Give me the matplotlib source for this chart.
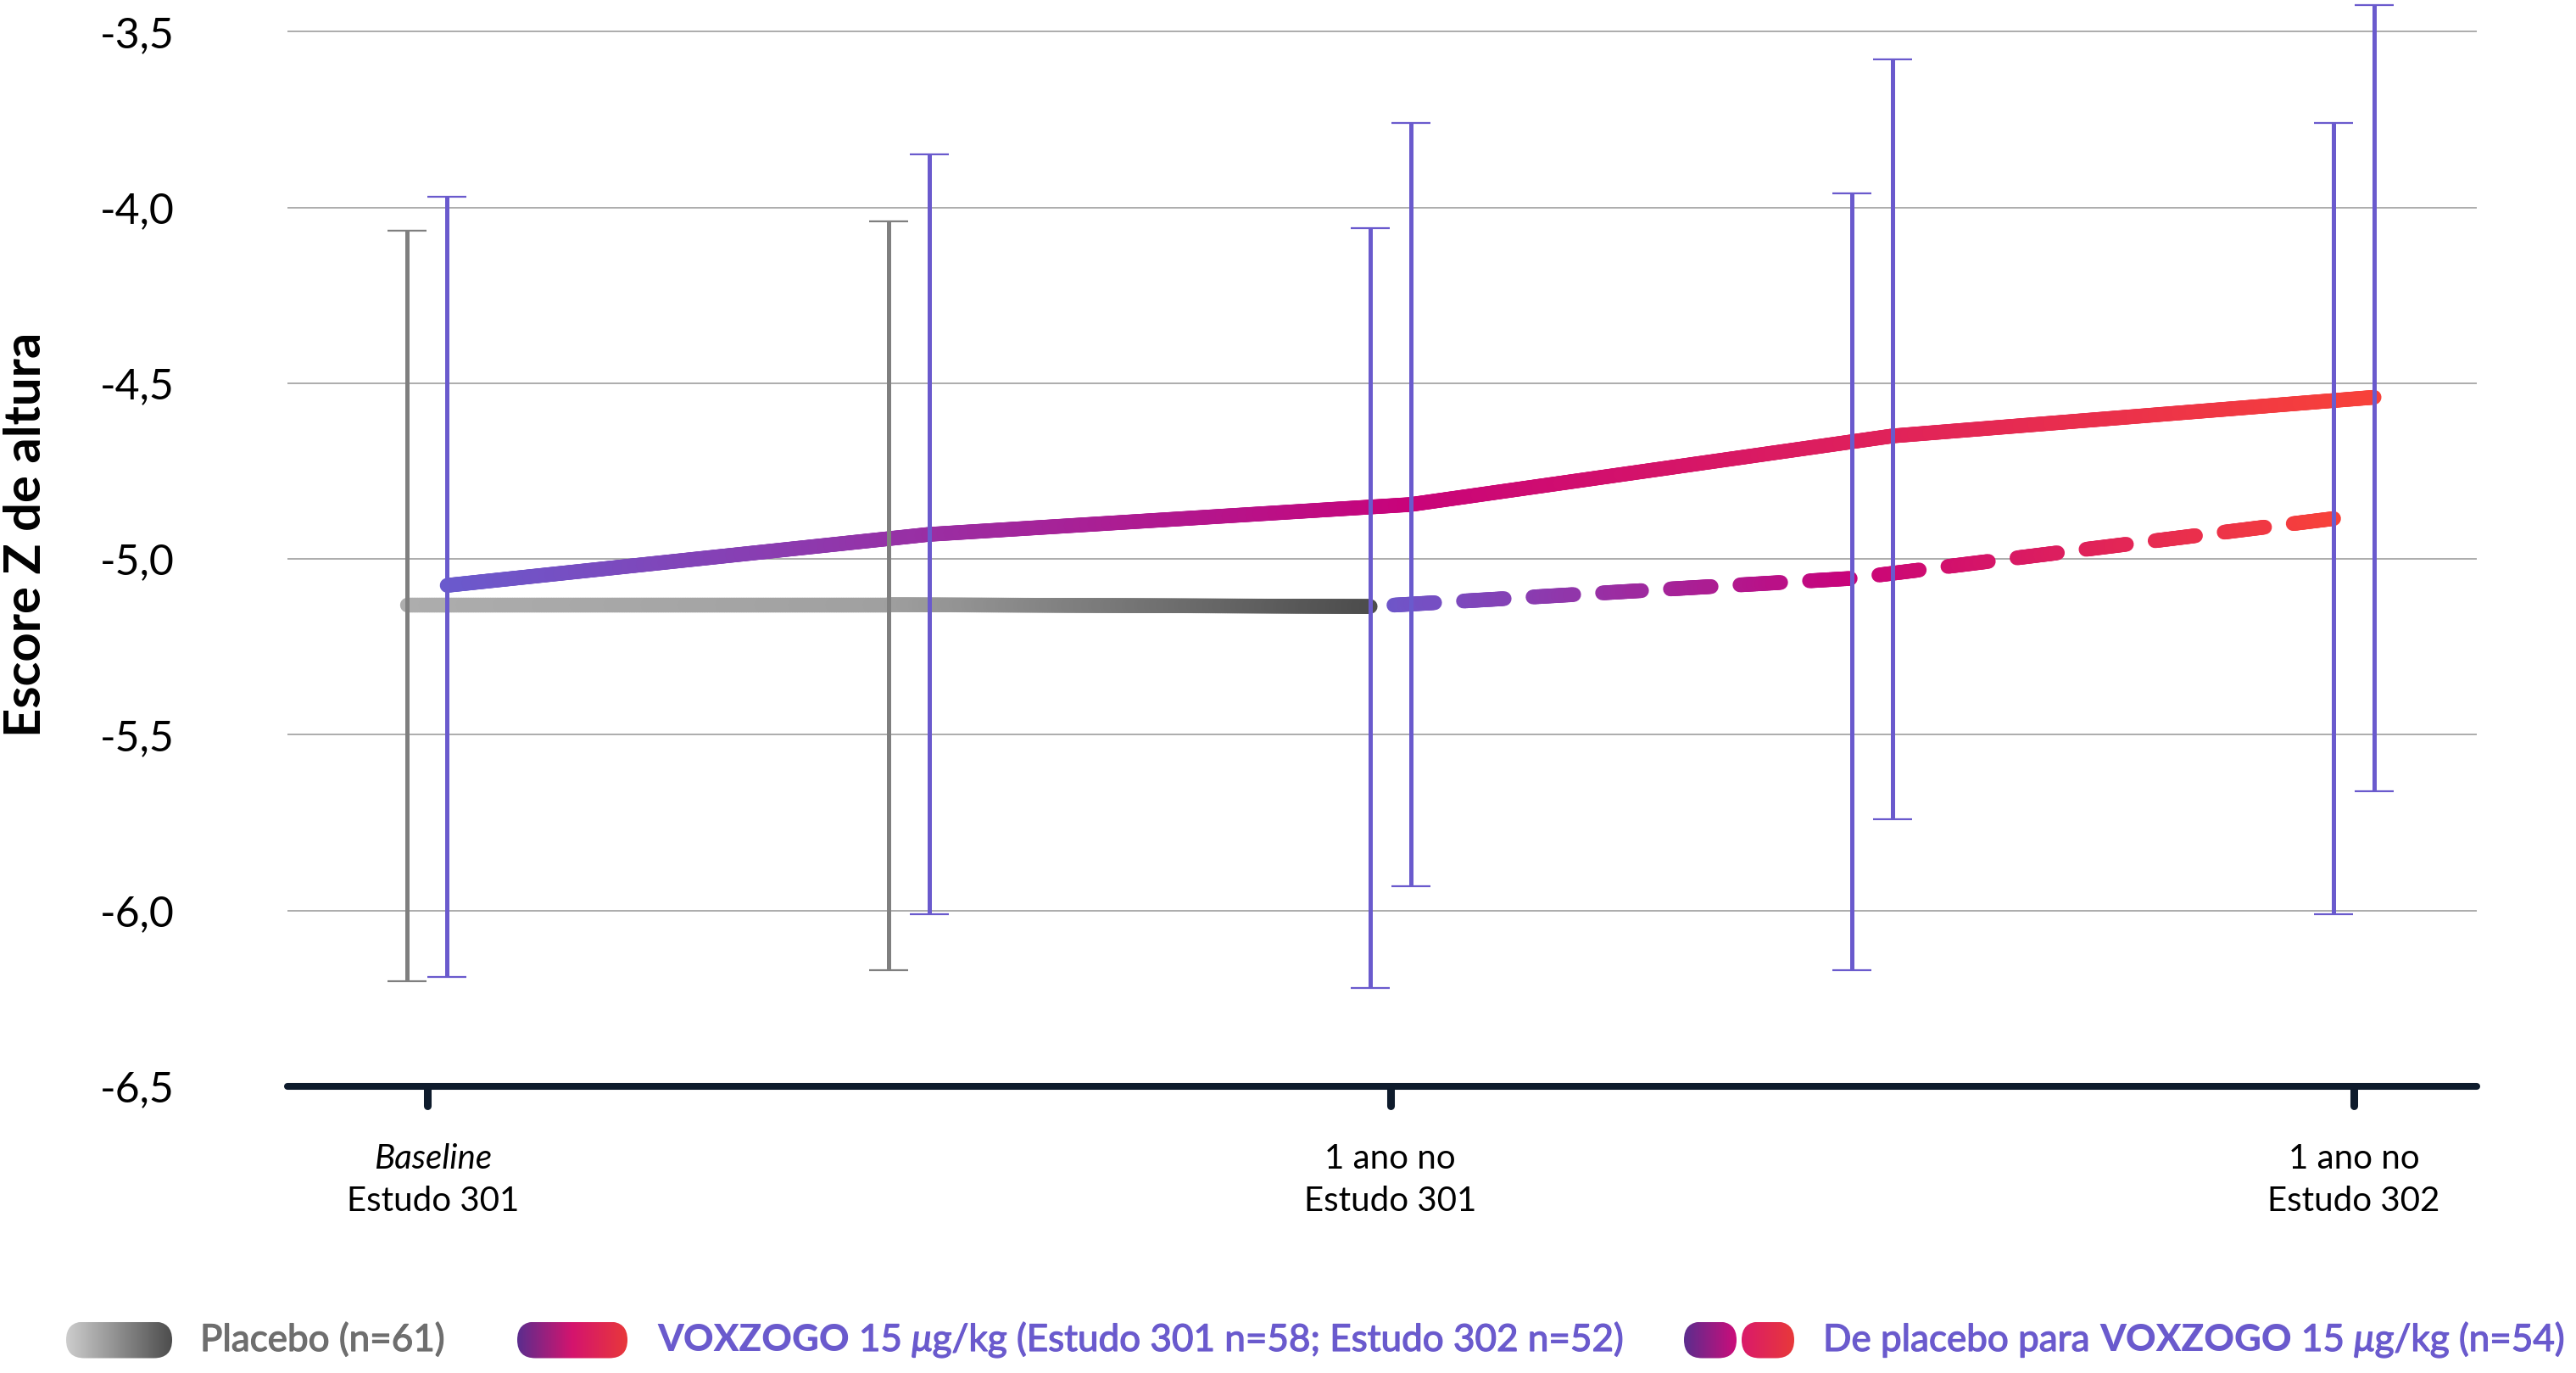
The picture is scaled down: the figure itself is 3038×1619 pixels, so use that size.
import numpy as np
import matplotlib
matplotlib.use("Agg")
import matplotlib.pyplot as plt
import matplotlib.patheffects as pe
from matplotlib.collections import LineCollection
from matplotlib.colors import LinearSegmentedColormap
from matplotlib.patches import FancyBboxPatch
from matplotlib.transforms import blended_transform_factory

plt.rcParams["font.family"] = ["Lato", "DejaVu Sans"]

# ---- dados ----
xtick_pos = [0.0, 1.0, 2.0]
xtick_line1 = ["Baseline", "1 ano no", "1 ano no"]
xtick_line2 = ["Estudo 301", "Estudo 301", "Estudo 302"]
ytick_vals = [-6.5, -6.0, -5.5, -5.0, -4.5, -4.0, -3.5]
ytick_text = ["-6,5", "-6,0", "-5,5", "-5,0", "-4,5", "-4,0", "-3,5"]

placebo_t = [0.0, 0.5, 1.0]
placebo_mean = [-5.13, -5.13, -5.135]
placebo_bar_t = [0.0, 0.5]
placebo_bar_mean = [-5.13, -5.105]
placebo_low = [-6.20, -6.17]
placebo_high = [-4.065, -4.04]

vox_t = [0.0, 0.5, 1.0, 1.5, 2.0]
vox_mean = [-5.075, -4.93, -4.845, -4.65, -4.54]
vox_low = [-6.19, -6.01, -5.93, -5.74, -5.66]
vox_high = [-3.97, -3.85, -3.76, -3.58, -3.425]

switch_t = [1.0, 1.5, 2.0]
switch_mean = [-5.135, -5.055, -4.885]
switch_low = [-6.22, -6.17, -6.01]
switch_high = [-4.06, -3.96, -3.76]

# ---- estilo ----
W, H = 3038, 1619
DX = 0.021
BAR = "#6A5ACD"
GREY_BAR = "#7F7F7F"
NAVY = "#0E1B2C"
grey_cmap = LinearSegmentedColormap.from_list(
    "placebo", [(0, "#ADADAD"), (0.5, "#A0A0A0"), (1, "#4D4D4D")])
vox_cmap = LinearSegmentedColormap.from_list(
    "vox", [(0, "#6A5ACD"), (0.5, "#C8037A"), (1, "#F7413A")])

fig = plt.figure(figsize=(W / 100, H / 100), dpi=100)
ax = fig.add_axes([339 / W, 1 - 1281 / H, (2921 - 339) / W, 1281 / H])
ax.set_xlim(-0.1448, 2.1276)
ax.set_ylim(-6.5, -3.41)
for s in ax.spines.values():
    s.set_visible(False)
ax.set_facecolor("none")


def gradient_line(xs, ys, cmap, lw, zorder, dash=None):
    """Linha com gradiente horizontal; dash=(on, off) em pixels, contado a partir do fim."""
    pts = ax.transData.transform(np.column_stack([xs, ys]))
    dense = []
    for a, b in zip(pts[:-1], pts[1:]):
        n = max(int(np.hypot(*(b - a)) / 2), 2)
        f = np.linspace(0, 1, n, endpoint=False)
        dense.append(a + f[:, None] * (b - a))
    dense.append(pts[-1:])
    dense = np.vstack(dense)
    seg_len = np.hypot(*np.diff(dense, axis=0).T)
    s = np.concatenate([[0], np.cumsum(seg_len)])
    mid_s = (s[:-1] + s[1:]) / 2
    keep = np.ones(len(seg_len), bool)
    if dash:
        keep = ((s[-1] - mid_s) % (dash[0] + dash[1])) < dash[0]
    data_pts = ax.transData.inverted().transform(dense)
    segs = np.stack([data_pts[:-1], data_pts[1:]], axis=1)[keep]
    frac = (dense[:-1, 0] + dense[1:, 0]) / 2
    frac = (frac - dense[0, 0]) / (dense[-1, 0] - dense[0, 0])
    lc = LineCollection(segs, colors=cmap(frac[keep]), linewidths=lw,
                        capstyle="round", joinstyle="round", zorder=zorder)
    ax.add_collection(lc)


# grade e eixos
ax.set_yticks(ytick_vals)
ax.set_yticklabels(ytick_text, fontsize=36)
ax.tick_params(axis="y", length=0, pad=96)
ax.grid(axis="y", color="#A6A6A6", linewidth=1.3, zorder=0)
ax.set_xticks(xtick_pos)
ax.set_xticklabels([])
ax.tick_params(axis="x", length=0)

blend = blended_transform_factory(ax.transData, ax.transAxes)
ax.plot([0, 1], [0, 0], transform=ax.transAxes, color=NAVY, lw=5.8,
        solid_capstyle="round", clip_on=False, zorder=6)
for i, xt in enumerate(xtick_pos):
    ax.plot([xt, xt], [0, -0.0176], transform=blend, color=NAVY, lw=6.5,
            solid_capstyle="round", clip_on=False, zorder=6)
    ax.annotate(xtick_line1[i], xy=(xt, 0), xycoords=blend,
                xytext=(5 if i == 0 else 0, -69.8),
                textcoords="offset points", ha="center", va="baseline",
                fontsize=29, fontstyle="italic" if i == 0 else "normal")
    ax.annotate(xtick_line2[i], xy=(xt, 0), xycoords=blend,
                xytext=(5 if i == 0 else 0, -105.8),
                textcoords="offset points", ha="center", va="baseline",
                fontsize=29)

# linhas com gradiente
px = np.array(placebo_t) - DX
px[-1] = switch_t[0] - DX
gradient_line(px, placebo_mean, grey_cmap, 12.5, 3)
gradient_line(np.array(vox_t) + DX, vox_mean, vox_cmap, 12.5, 3)
gradient_line(np.array(switch_t) - DX, switch_mean, vox_cmap, 12.5, 3,
              dash=(48, 34))

# barras de erro
def bars(t, mean, low, high, color):
    mean = np.array(mean)
    ax.errorbar(t, mean, yerr=[mean - np.array(low), np.array(high) - mean],
                fmt="none", ecolor=color, elinewidth=3.6, capsize=16.5,
                capthick=1.6, zorder=5)


bars(np.array(placebo_bar_t) - DX, placebo_bar_mean, placebo_low, placebo_high, GREY_BAR)
bars(np.array(vox_t) + DX, vox_mean, vox_low, vox_high, BAR)
bars(np.array(switch_t) - DX, switch_mean, switch_low, switch_high, BAR)

# ---- legenda e rótulo do eixo y (em pixels da figura) ----
lax = fig.add_axes([0, 0, 1, 1], zorder=-1)
lax.axis("off")
lax.text(31, 630, "Escore Z de altura", rotation=90, fontsize=43,
         fontweight="bold", ha="center", va="center")


def pill(x0, x1, yc, h, colors):
    patch = FancyBboxPatch((x0, yc - h / 2), x1 - x0, h,
                           boxstyle=f"round,pad=0,rounding_size={h / 2}",
                           facecolor="none", edgecolor="none")
    lax.add_patch(patch)
    cm = LinearSegmentedColormap.from_list("p", colors)
    im = lax.imshow(np.linspace(0, 1, 256).reshape(1, -1), cmap=cm,
                    extent=[x0, x1, yc + h / 2, yc - h / 2], aspect="auto")
    im.set_clip_path(patch)


renderer = fig.canvas.get_renderer()


def width_of(txt, **kw):
    t = lax.text(0, 0, txt, **kw)
    w = t.get_window_extent(renderer).width
    t.remove()
    return w


def runs(x, y, parts, size):
    sp = width_of("a a", fontsize=size) - width_of("aa", fontsize=size)
    for txt, color, weight, style in parts:
        if txt == " ":
            x += sp
            continue
        t = lax.text(x, y, txt, color=color, fontsize=size, fontweight=weight,
                     fontstyle=style, ha="left", va="baseline")
        if weight != "black":
            t.set_path_effects([pe.withStroke(linewidth=0.9, foreground=color)])
        x += t.get_window_extent(renderer).width


LEG_Y = 1580
BASE_Y = 1593
FS = 31.7
GREYTXT = "#6E6E6E"
SP = (" ", None, None, None)
pill(78, 203, LEG_Y, 43, ["#CDCDCD", "#4D4D4D"])
runs(236, BASE_Y, [("Placebo (n=61)", GREYTXT, "normal", "normal")], FS)

pill(610, 740, LEG_Y, 43, ["#5B2D8E", "#D4146E", "#E8383A"])
runs(775, BASE_Y, [("VOXZOGO", BAR, "black", "normal"), SP,
                   ("15", BAR, "normal", "normal"), SP,
                   ("\u03bc", BAR, "normal", "italic"),
                   ("g/kg (Estudo 301 n=58; Estudo 302 n=52)", BAR, "normal", "normal")], FS)

pill(1986, 2048, LEG_Y, 43, ["#5B2D8E", "#CC0D7A"])
pill(2054, 2116, LEG_Y, 43, ["#DA1A6A", "#E8393A"])
runs(2150, BASE_Y, [("De placebo para", BAR, "normal", "normal"), SP,
                    ("VOXZOGO", BAR, "black", "normal"), SP,
                    ("15", BAR, "normal", "normal"), SP,
                    ("\u03bc", BAR, "normal", "italic"),
                    ("g/kg (n=54)", BAR, "normal", "normal")], FS)

lax.set_xlim(0, W)
lax.set_ylim(H, 0)

fig.savefig("out.png", dpi=100)
